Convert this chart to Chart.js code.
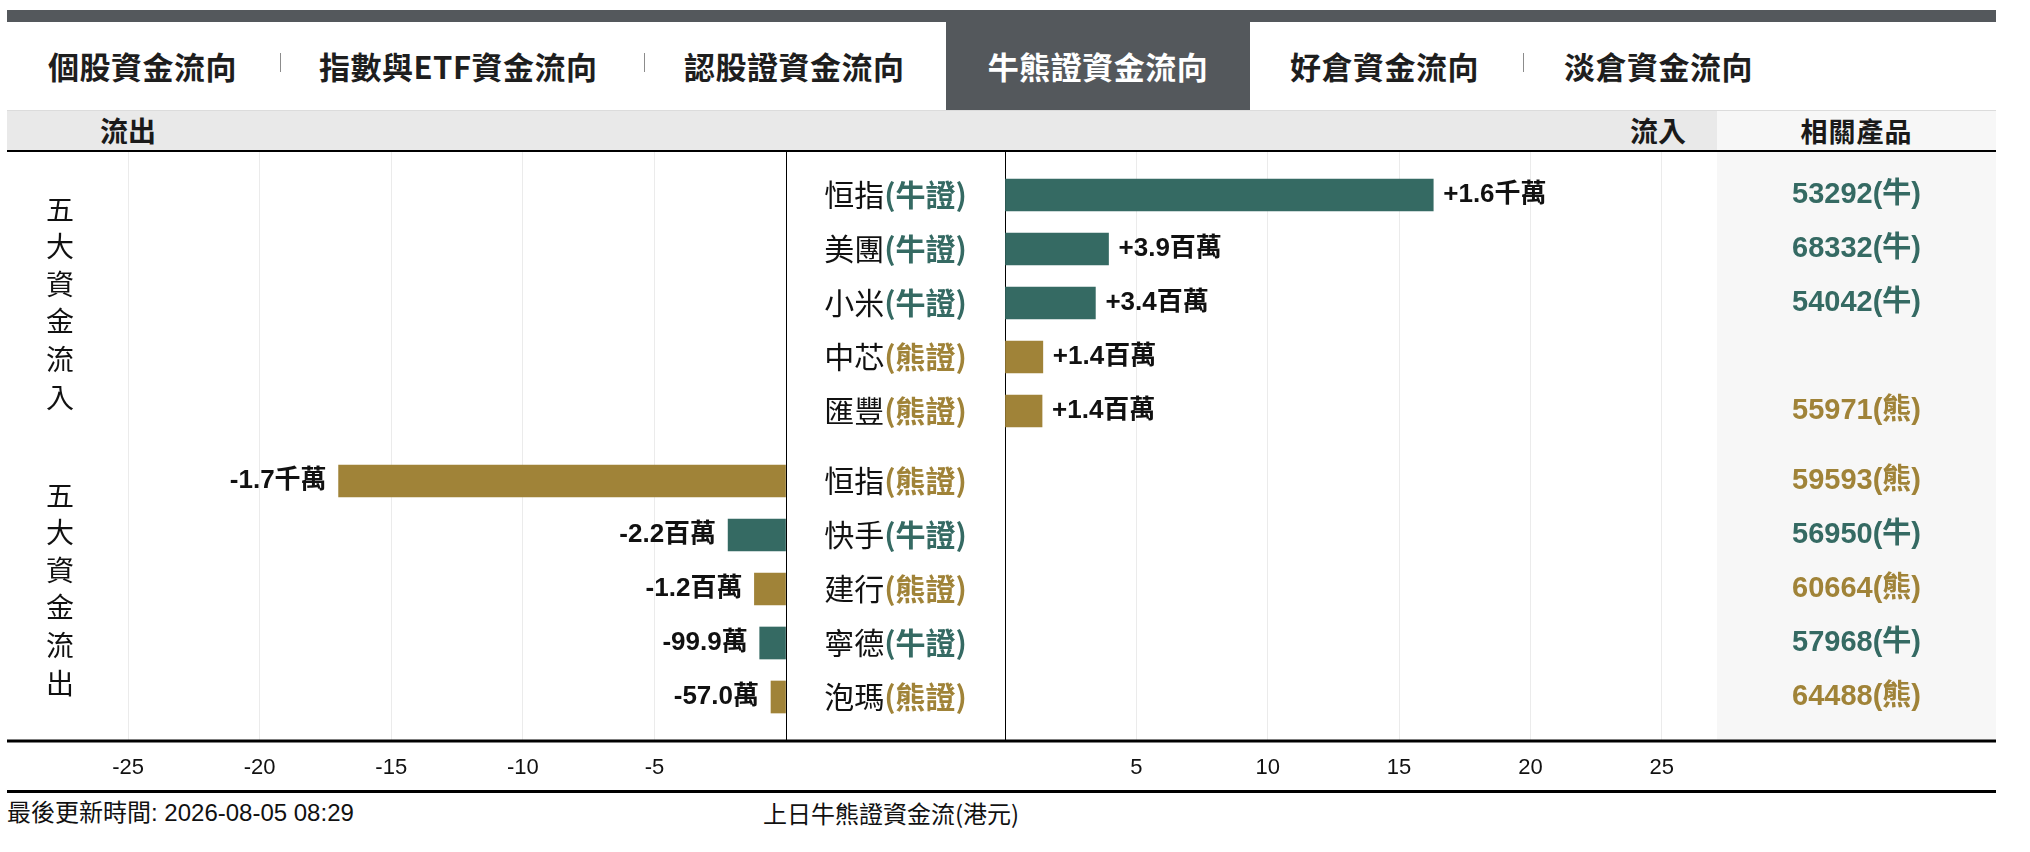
<!DOCTYPE html>
<html lang="zh-Hant">
<head>
<meta charset="utf-8">
<title>牛熊證資金流向</title>
<script src="https://cdn.jsdelivr.net/npm/chart.js@4.4.0/dist/chart.umd.min.js"></script>
<style>
    html, body { margin: 0; padding: 0; background: #fff; }
    body { width: 2030px; height: 852px; position: relative; overflow: hidden; color: #1a1a1a;
           font-family: "Liberation Sans", "Noto Sans CJK TC", sans-serif; }
    .cjk { font-family: "Noto Sans CJK TC", "Liberation Sans", sans-serif; }
    #topBar { position: absolute; left: 7px; top: 10px; width: 1989px; height: 12px; background: #54585c; }
    .tab { position: absolute; top: 22px; height: 88px; line-height: 88px; font-size: 31px; font-weight: 700;
           letter-spacing: 0.5px; white-space: nowrap; color: #1e1e1e; }
    .tab.active { background: #54585c; color: #fff; text-align: center; }
    .sep { position: absolute; top: 53px; width: 1px; height: 19px; background: #8c8c8c; }
    #header { position: absolute; left: 7px; top: 110px; width: 1989px; height: 40px; background: #e9e9e9;
              border-top: 1px solid #dcdcdc; box-sizing: border-box; }
    .head { position: absolute; top: 110px; height: 40px; line-height: 40px; font-size: 28px; font-weight: 700; white-space: nowrap; }
    #prodHead { position: absolute; left: 1717px; top: 111px; width: 279px; height: 39px; background: #f7f7f7;
                text-align: center; line-height: 39px; font-size: 27px; font-weight: 700; letter-spacing: 1px; }
    #headLine { position: absolute; left: 7px; top: 150px; width: 1989px; height: 2px; background: #000; }
    #chartBox { position: absolute; left: 7px; top: 152px; width: 1989px; height: 640px; }
    #footLine { position: absolute; left: 7px; top: 790px; width: 1989px; height: 3px; background: #000; }
    .foot { position: absolute; top: 798px; height: 30px; line-height: 30px; font-size: 24px; white-space: nowrap; color: #111; }
</style>
</head>
<body>
<div id="topBar"></div>
<div class="tab cjk" style="left:48px">個股資金流向</div>
<div class="sep" style="left:280px"></div>
<div class="tab cjk" style="left:319px">指數與ETF資金流向</div>
<div class="sep" style="left:644px"></div>
<div class="tab cjk" style="left:684px">認股證資金流向</div>
<div class="tab cjk active" style="left:946px;width:304px">牛熊證資金流向</div>
<div class="tab cjk" style="left:1290px">好倉資金流向</div>
<div class="sep" style="left:1523px"></div>
<div class="tab cjk" style="left:1564px">淡倉資金流向</div>

<div id="header"></div>
<div class="head cjk" style="left:100px">流出</div>
<div class="head cjk" style="left:1630px">流入</div>
<div id="prodHead" class="cjk">相關產品</div>
<div id="headLine"></div>

<div id="chartBox"><canvas id="flowChart"></canvas></div>

<div id="footLine"></div>
<div class="foot" style="left:7px">最後更新時間: 2026-08-05 08:29</div>
<div class="foot cjk" style="left:763px">上日牛熊證資金流(港元)</div>

<script>
// 五大資金流入 (百萬港元)
const inflowNames = ['恒指', '美團', '小米', '中芯', '匯豐'];
const inflowTypes = ['牛', '牛', '牛', '熊', '熊'];
const inflowValues = [16.3, 3.94, 3.44, 1.44, 1.41];
const inflowLabels = ['+1.6千萬', '+3.9百萬', '+3.4百萬', '+1.4百萬', '+1.4百萬'];
const inflowProducts = ['53292', '68332', '54042', '', '55971'];

// 五大資金流出 (百萬港元)
const outflowNames = ['恒指', '快手', '建行', '寧德', '泡瑪'];
const outflowTypes = ['熊', '牛', '熊', '牛', '熊'];
const outflowValues = [-17.0, -2.2, -1.2, -0.999, -0.57];
const outflowLabels = ['-1.7千萬', '-2.2百萬', '-1.2百萬', '-99.9萬', '-57.0萬'];
const outflowProducts = ['59593', '56950', '60664', '57968', '64488'];

const groupTitles = ['五大資金流入', '五大資金流出'];
const typeColors = { '牛': '#356a63', '熊': '#a08338' };

const cjkFont = '"Noto Sans CJK TC", "Liberation Sans", sans-serif';
const latinFont = '"Liberation Sans", "Noto Sans CJK TC", sans-serif';

Chart.defaults.font.family = latinFont;

function gridColor(ctx) {
    return ctx.tick && ctx.tick.value === 0 ? '#000' : '#ebebeb';
}

function tickLabel(value) {
    return value === 0 ? '' : value;
}

// fixed axis height, and no side padding so the stacked axes fill the whole width
function fitXAxis(scale) {
    scale.height = 52;
    scale.paddingLeft = 0;
    scale.paddingRight = 0;
}

const valueAxis = (min, max, weight) => ({
    type: 'linear',
    position: 'bottom',
    stack: 'cols',
    stackWeight: weight,
    min: min,
    max: max,
    afterFit: fitXAxis,
    border: { display: false },
    grid: { color: gridColor, lineWidth: 1, drawTicks: false },
    ticks: {
        stepSize: 5,
        includeBounds: false,
        autoSkip: false,
        maxRotation: 0,
        padding: 15,
        color: '#111',
        font: { size: 22, family: latinFont },
        callback: tickLabel
    }
});

const spacerX = (weight) => ({
    type: 'linear', position: 'bottom', stack: 'cols', stackWeight: weight,
    min: 0, max: 1, display: false
});

const rowAxis = (labels, weight) => ({
    type: 'category', position: 'right', stack: 'rows', stackWeight: weight,
    labels: labels, offset: true, display: false, grid: { display: false }
});

const flowPlugin = {
    id: 'flowLabels',
    beforeDraw(chart) {
        const { ctx, chartArea, scales } = chart;
        ctx.save();
        ctx.fillStyle = '#f7f7f7';
        ctx.fillRect(scales.xp.left, chartArea.top, scales.xp.right - scales.xp.left, chartArea.bottom - chartArea.top);
        ctx.restore();
    },
    afterDatasetsDraw(chart) {
        const { ctx, chartArea, scales } = chart;
        const inMeta = chart.getDatasetMeta(0);
        const outMeta = chart.getDatasetMeta(1);
        ctx.save();
        ctx.textBaseline = 'middle';

        // bar value labels
        ctx.font = 'bold 26px ' + latinFont;
        ctx.fillStyle = '#111';
        ctx.textAlign = 'left';
        inMeta.data.forEach((bar, i) => ctx.fillText(inflowLabels[i], bar.x + 10, bar.y));
        ctx.textAlign = 'right';
        outMeta.data.forEach((bar, i) => ctx.fillText(outflowLabels[i], bar.x - 12, bar.y));

        // names in centre column, products in right column
        const cx = (scales.xc.left + scales.xc.right) / 2;
        const px = (scales.xp.left + scales.xp.right) / 2;
        const nameFont = '30px ' + cjkFont;
        const suffixFont = 'bold 30px ' + cjkFont;

        function drawRow(name, type, product, y) {
            const suffix = '(' + type + '證)';
            ctx.font = nameFont;
            const w1 = ctx.measureText(name).width;
            ctx.font = suffixFont;
            const w2 = ctx.measureText(suffix).width;
            const x0 = cx - (w1 + w2) / 2;
            ctx.textAlign = 'left';
            ctx.font = nameFont;
            ctx.fillStyle = '#111';
            ctx.fillText(name, x0, y);
            ctx.font = suffixFont;
            ctx.fillStyle = typeColors[type];
            ctx.fillText(suffix, x0 + w1, y);
            if (product) {
                ctx.textAlign = 'center';
                ctx.font = 'bold 29px ' + latinFont;
                ctx.fillText(product + '(' + type + ')', px, y);
            }
        }

        inflowNames.forEach((n, i) => drawRow(n, inflowTypes[i], inflowProducts[i], scales.yTop.getPixelForValue(i)));
        outflowNames.forEach((n, i) => drawRow(n, outflowTypes[i], outflowProducts[i], scales.yBot.getPixelForValue(i)));

        // vertical group titles
        ctx.font = '28px ' + cjkFont;
        ctx.fillStyle = '#111';
        ctx.textAlign = 'center';
        [scales.yTop, scales.yBot].forEach((sc, g) => {
            const mid = (sc.top + sc.bottom) / 2;
            const chars = Array.from(groupTitles[g]);
            chars.forEach((ch, k) => ctx.fillText(ch, chartArea.left + 53, mid + (k - (chars.length - 1) / 2) * 37.6));
        });

        ctx.restore();
    },
    afterDraw(chart) {
        const { ctx, chartArea } = chart;
        ctx.save();
        ctx.fillStyle = '#000';
        ctx.fillRect(chartArea.left, chartArea.bottom - 0.5, chartArea.right - chartArea.left, 3);
        ctx.restore();
    }
};

new Chart(document.getElementById('flowChart').getContext('2d'), {
    type: 'bar',
    data: {
        datasets: [{
            label: '流入',
            data: inflowValues,
            xAxisID: 'xr',
            yAxisID: 'yTop',
            backgroundColor: inflowTypes.map(t => typeColors[t]),
            barThickness: 32,
            grouped: false
        }, {
            label: '流出',
            data: outflowValues,
            xAxisID: 'xl',
            yAxisID: 'yBot',
            backgroundColor: outflowTypes.map(t => typeColors[t]),
            barThickness: 32,
            grouped: false
        }]
    },
    options: {
        indexAxis: 'y',
        responsive: true,
        maintainAspectRatio: false,
        animation: false,
        layout: { padding: 0 },
        plugins: { legend: { display: false }, tooltip: { enabled: false } },
        scales: {
            xl: valueAxis(-29.6, 0, 779),
            xc: spacerX(219),
            xr: valueAxis(0, 27.1, 712),
            xp: spacerX(279),
            yPadTop: rowAxis([''], 16),
            yTop: rowAxis(inflowNames, 270),
            yGap: rowAxis([''], 16),
            yBot: rowAxis(outflowNames, 270),
            yPadBot: rowAxis([''], 16)
        }
    },
    plugins: [flowPlugin]
});
</script>
</body>
</html>
